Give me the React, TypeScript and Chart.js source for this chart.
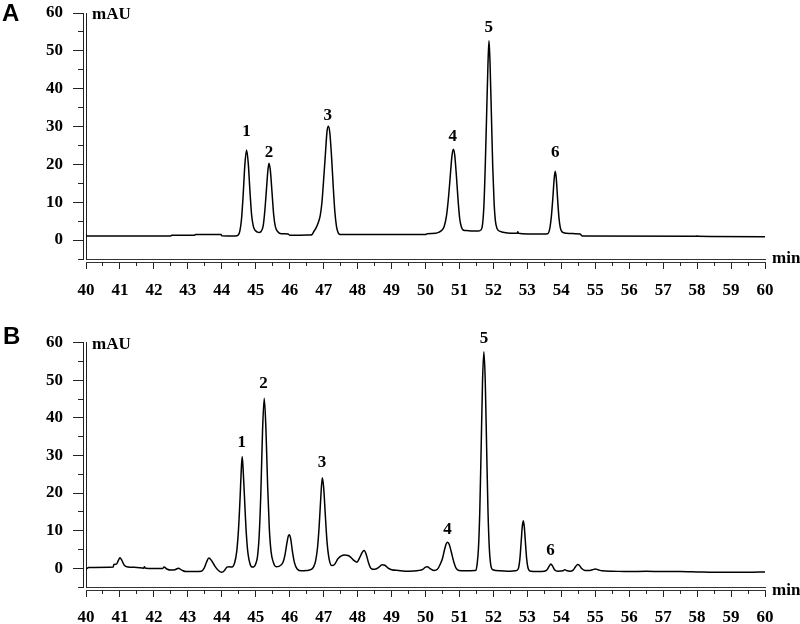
import React, { useEffect, useRef } from 'react';
import { Chart, registerables } from 'chart.js';

Chart.register(...registerables);

// ---- axis ranges / ticks ----
const X_MIN = 40;
const X_MAX = 60;
const X_STEP = 0.5;
const Y_MIN = -5;
const Y_MAX = 60;
const Y_STEP = 5;
const Y_UNIT = 'mAU';
const X_UNIT = 'min';

// ---- chromatogram A : [time (min), absorbance (mAU)] ----
const traceA: [number, number][] = [
  [40.0, 1.6], [40.02, 1.05], [42.5, 1.05], [42.52, 1.25], [43.2, 1.25], [43.22, 1.45],
  [43.98, 1.45], [44.0, 1.15], [44.4, 1.1], [44.48, 1.3], [44.53, 2.3], [44.58, 5.5],
  [44.63, 12.0], [44.68, 20.0], [44.73, 23.8], [44.78, 20.2], [44.83, 12.8], [44.88, 6.5],
  [44.93, 3.6], [44.98, 2.6], [45.05, 2.1], [45.1, 2.0], [45.15, 2.2], [45.22, 3.8],
  [45.27, 8.0], [45.32, 14.0], [45.36, 18.6], [45.39, 20.3], [45.43, 18.4], [45.48, 12.5],
  [45.53, 6.5], [45.58, 3.5], [45.65, 2.2], [45.75, 1.7], [45.85, 1.7], [45.95, 1.6],
  [46.0, 1.3], [46.3, 1.3], [46.6, 1.35], [46.65, 1.4], [46.72, 2.4], [46.78, 3.3],
  [46.84, 4.6], [46.9, 6.5], [46.95, 10.0], [47.0, 16.0], [47.05, 22.5], [47.1, 28.8],
  [47.14, 30.1], [47.18, 28.5], [47.23, 22.5], [47.28, 14.5], [47.33, 7.5], [47.38, 3.5],
  [47.43, 1.9], [47.48, 1.5], [47.6, 1.5], [50.0, 1.5], [50.05, 1.7], [50.3, 1.8],
  [50.4, 2.1], [50.48, 2.6], [50.55, 3.6], [50.62, 6.5], [50.68, 11.5], [50.73, 17.0],
  [50.78, 22.3], [50.82, 24.0], [50.86, 22.5], [50.91, 17.0], [50.96, 10.5], [51.01, 5.5],
  [51.06, 3.4], [51.12, 2.6], [51.2, 2.5], [51.4, 2.4], [51.55, 2.4], [51.62, 2.6],
  [51.67, 3.5], [51.72, 9.0], [51.76, 19.5], [51.8, 33.0], [51.84, 46.5], [51.87, 52.7],
  [51.9, 47.0], [51.94, 33.5], [51.98, 19.5], [52.02, 10.0], [52.06, 5.0], [52.11, 3.0],
  [52.2, 2.3], [52.4, 1.9], [52.7, 1.8], [52.72, 2.2], [52.74, 1.8], [53.0, 1.6],
  [53.45, 1.6], [53.6, 1.7], [53.66, 3.0], [53.71, 6.5], [53.75, 11.0], [53.79, 16.2],
  [53.82, 18.2], [53.85, 16.5], [53.89, 11.0], [53.93, 6.0], [53.97, 3.3], [54.03, 2.1],
  [54.15, 1.8], [54.4, 1.7], [54.55, 1.6], [54.62, 1.1], [57.99, 1.0], [58.0, 1.15],
  [58.02, 1.0], [60.0, 0.9],
];

// ---- chromatogram B ----
const traceB: [number, number][] = [
  [40.0, -0.3], [40.08, 0.2], [40.8, 0.3], [40.82, 1.0], [40.9, 1.1], [40.95, 2.0],
  [41.0, 2.8], [41.05, 2.2], [41.12, 0.9], [41.2, 0.4], [41.5, 0.2], [41.7, 0.0],
  [41.72, 0.4], [41.75, 0.0], [42.0, -0.1], [42.25, -0.1], [42.3, 0.3], [42.38, -0.2],
  [42.5, -0.5], [42.62, -0.4], [42.72, 0.0], [42.82, -0.5], [42.95, -0.9], [43.4, -0.8],
  [43.48, 0.0], [43.55, 1.6], [43.62, 2.7], [43.7, 2.0], [43.8, 0.5], [43.9, -0.6],
  [44.0, -1.1], [44.08, -0.6], [44.15, 0.3], [44.22, 0.4], [44.3, 0.3], [44.38, 1.5],
  [44.44, 4.5], [44.49, 10.0], [44.54, 19.0], [44.57, 25.5], [44.6, 29.7], [44.63, 26.0],
  [44.67, 18.5], [44.72, 9.5], [44.77, 4.0], [44.83, 1.2], [44.9, 0.3], [44.95, 0.4],
  [45.0, 1.2], [45.05, 3.0], [45.1, 8.5], [45.15, 20.0], [45.2, 36.5], [45.25, 45.2],
  [45.3, 37.0], [45.35, 22.0], [45.4, 10.5], [45.45, 4.5], [45.52, 1.5], [45.6, 0.4],
  [45.68, 0.5], [45.8, 1.5], [45.86, 3.5], [45.92, 6.8], [45.96, 8.6], [45.99, 8.9],
  [46.03, 7.8], [46.08, 4.5], [46.14, 1.5], [46.22, -0.2], [46.35, -0.7], [46.5, -0.6],
  [46.62, -0.4], [46.7, 0.3], [46.76, 1.8], [46.82, 5.5], [46.87, 11.5], [46.92, 19.5],
  [46.96, 24.1], [47.0, 21.5], [47.05, 14.0], [47.1, 7.0], [47.16, 2.5], [47.24, 0.7],
  [47.32, 1.0], [47.42, 2.5], [47.52, 3.3], [47.62, 3.5], [47.72, 3.4], [47.8, 2.9],
  [47.9, 2.0], [47.98, 1.6], [48.06, 2.8], [48.14, 4.3], [48.19, 4.7], [48.25, 3.8],
  [48.32, 1.5], [48.4, -0.1], [48.5, -0.3], [48.62, 0.2], [48.72, 0.9], [48.8, 0.8],
  [48.9, 0.0], [49.0, -0.4], [49.2, -0.6], [49.5, -0.8], [49.8, -0.6], [49.92, -0.3],
  [50.0, 0.3], [50.05, 0.4], [50.15, -0.2], [50.25, -0.6], [50.35, -0.3], [50.42, 0.8],
  [50.5, 2.6], [50.56, 4.9], [50.61, 6.5], [50.65, 6.9], [50.7, 6.3], [50.76, 4.3],
  [50.83, 1.8], [50.9, 0.0], [50.98, -0.6], [51.2, -0.7], [51.45, -0.6], [51.48, -0.6],
  [51.52, 1.0], [51.56, 5.3], [51.6, 15.5], [51.64, 32.3], [51.68, 49.8], [51.72, 57.6],
  [51.76, 49.8], [51.8, 32.3], [51.84, 15.5], [51.88, 5.3], [51.92, 1.0], [51.98, -0.4],
  [52.2, -0.7], [52.5, -0.8], [52.65, -0.7], [52.73, -0.2], [52.78, 2.5], [52.82, 7.3],
  [52.85, 11.0], [52.88, 12.6], [52.91, 11.0], [52.94, 7.3], [52.98, 2.5], [53.03, -0.2],
  [53.1, -0.8], [53.3, -0.9], [53.5, -0.8], [53.58, -0.4], [53.64, 0.5], [53.69, 1.1],
  [53.74, 0.6], [53.8, -0.4], [53.9, -0.8], [54.05, -0.7], [54.1, -0.4], [54.15, -0.6],
  [54.25, -0.8], [54.35, -0.5], [54.42, 0.4], [54.48, 1.0], [54.53, 0.8], [54.6, -0.1],
  [54.7, -0.6], [54.8, -0.6], [54.92, -0.4], [55.0, -0.2], [55.08, -0.4], [55.2, -0.7],
  [55.5, -0.8], [56.0, -0.9], [56.5, -0.8], [57.0, -0.9], [57.5, -0.9], [58.0, -1.0],
  [58.5, -1.1], [59.0, -1.1], [59.5, -1.1], [60.0, -1.0],
];

// ---- peak labels (name, time, label level in mAU) ----
const peakNames = ['1', '2', '3', '4', '5', '6'];
const peakTimesA = [44.73, 45.39, 47.12, 50.8, 51.86, 53.82];
const peakLevelsA = [28.6, 23.1, 33.0, 27.3, 56.2, 23.1];
const peakTimesB = [44.59, 45.23, 46.95, 50.65, 51.72, 53.68];
const peakLevelsB = [33.4, 49.0, 28.2, 10.4, 61.0, 4.7];

const SERIF = '"Liberation Serif", "Times New Roman", serif';

type PanelProps = {
  letter: string;
  trace: [number, number][];
  peakTimes: number[];
  peakLevels: number[];
  padTop: number;
  xAxisHeight: number;
  xLabelPad: number;
  minOffset: number;
  letterBaseline: number;
  letterX: number;
};

function Panel(props: PanelProps) {
  const ref = useRef<HTMLCanvasElement>(null);
  useEffect(() => {
    if (!ref.current) return;
    const { letter, trace, peakTimes, peakLevels, padTop, xAxisHeight, xLabelPad, minOffset, letterBaseline, letterX } = props;

    const overlay = {
      id: 'overlay',
      afterDraw(chart: any) {
        const ctx = chart.ctx as CanvasRenderingContext2D;
        const xs = chart.scales.x;
        const ys = chart.scales.y;
        ctx.save();
        ctx.strokeStyle = '#222';
        ctx.lineWidth = 1;
        ctx.beginPath();
        for (let v = Y_MIN; v <= Y_MAX; v += Y_STEP) {
          if (v % 10 === 0) continue;
          const py = Math.floor(ys.getPixelForValue(v)) + 0.5;
          ctx.moveTo(ys.right - 5, py);
          ctx.lineTo(ys.right, py);
        }
        for (let t = X_MIN + X_STEP; t < X_MAX; t += 1) {
          const px = Math.floor(xs.getPixelForValue(t)) + 0.5;
          ctx.moveTo(px, xs.top);
          ctx.lineTo(px, xs.top + 4);
        }
        ctx.stroke();

        ctx.fillStyle = '#000';
        ctx.font = `bold 17px ${SERIF}`;
        ctx.textAlign = 'center';
        ctx.textBaseline = 'middle';
        peakNames.forEach((n, i) => {
          ctx.fillText(n, xs.getPixelForValue(peakTimes[i]), ys.getPixelForValue(peakLevels[i]));
        });
        ctx.textAlign = 'left';
        ctx.textBaseline = 'alphabetic';
        ctx.fillText(Y_UNIT, chart.chartArea.left + 6, ys.getPixelForValue(Y_MAX) + 6);
        ctx.fillText(X_UNIT, chart.chartArea.right + 7, ys.getPixelForValue(Y_MIN) + minOffset);
        ctx.font = 'bold 24px "Liberation Sans", Arial, sans-serif';
        ctx.fillText(letter, letterX, letterBaseline);
        ctx.restore();
      },
    };

    const tickFont = { family: SERIF, weight: 'bold' as const, size: 17 };

    const chart = new Chart(ref.current, {
      type: 'line',
      data: {
        datasets: [
          {
            data: trace.map(([x, y]) => ({ x, y })),
            borderColor: '#000',
            borderWidth: 1.5,
            pointRadius: 0,
            fill: false,
            cubicInterpolationMode: 'monotone',
            xAxisID: 'x',
            yAxisID: 'y',
          },
        ],
      },
      options: {
        animation: false,
        responsive: false,
        devicePixelRatio: 1,
        layout: { padding: { top: padTop, left: 0, right: 35, bottom: 0 } },
        plugins: { legend: { display: false }, tooltip: { enabled: false } },
        scales: {
          x: {
            type: 'linear',
            position: 'bottom',
            weight: 1,
            min: X_MIN,
            max: X_MAX,
            afterFit: (s: any) => { s.height = xAxisHeight; },
            afterBuildTicks: (s: any) => {
              const t = [];
              for (let v = X_MIN; v <= X_MAX + 1e-9; v += X_STEP) t.push({ value: v });
              s.ticks = t;
            },
            ticks: {
              autoSkip: false,
              maxRotation: 0,
              padding: xLabelPad,
              color: '#000',
              font: tickFont,
              callback: (v: any) => (Number.isInteger(Number(v)) ? String(v) : ''),
            },
            grid: {
              drawOnChartArea: false,
              drawTicks: true,
              tickLength: 7,
              tickColor: (c: any) => (Number.isInteger(c.tick?.value) ? '#222' : 'rgba(0,0,0,0)'),
            },
            border: { display: true, color: '#333', width: 1 },
          },
          x2: {
            type: 'linear',
            position: 'bottom',
            weight: 0,
            min: X_MIN,
            max: X_MAX,
            display: true,
            afterFit: (s: any) => { s.height = 3; },
            ticks: { display: false },
            grid: { drawOnChartArea: false, drawTicks: false },
            border: { display: true, color: '#333', width: 1 },
          },
          y: {
            type: 'linear',
            position: 'left',
            weight: 1,
            min: Y_MIN,
            max: Y_MAX,
            afterFit: (s: any) => {
              s.width = 83;
              s.paddingTop = 0;
              s.paddingBottom = 0;
            },
            ticks: {
              stepSize: Y_STEP,
              autoSkip: false,
              padding: 10,
              color: '#000',
              font: tickFont,
              callback: (v: any) => (Number(v) % 10 === 0 ? String(v) : ''),
            },
            grid: {
              drawOnChartArea: false,
              drawTicks: true,
              tickLength: 10,
              tickColor: (c: any) => (c.tick && c.tick.value % 10 === 0 ? '#222' : 'rgba(0,0,0,0)'),
            },
            border: { display: true, color: '#222', width: 1 },
          },
          y2: {
            type: 'linear',
            position: 'left',
            weight: 0,
            min: Y_MIN,
            max: Y_MAX,
            display: true,
            afterFit: (s: any) => {
              s.width = 3;
              s.paddingTop = 0;
              s.paddingBottom = 0;
            },
            ticks: { display: false },
            grid: { drawOnChartArea: false, drawTicks: false },
            border: { display: true, color: '#222', width: 1 },
          },
        },
      },
      plugins: [overlay],
    } as any);
    return () => chart.destroy();
  }, []);
  return <canvas ref={ref} width={800} height={312} style={{ display: 'block' }} />;
}

export default function App() {
  return (
    <div style={{ position: 'absolute', left: 0, top: 0, width: 800, height: 624, background: '#fff' }}>
      <Panel
        letter="A"
        trace={traceA}
        peakTimes={peakTimesA}
        peakLevels={peakLevelsA}
        padTop={13}
        xAxisHeight={50}
        xLabelPad={11}
        minOffset={4}
        letterBaseline={21}
        letterX={2}
      />
      <Panel
        letter="B"
        trace={traceB}
        peakTimes={peakTimesB}
        peakLevels={peakLevelsB}
        padTop={30.7}
        xAxisHeight={34}
        xLabelPad={10}
        minOffset={8}
        letterBaseline={32}
        letterX={3}
      />
    </div>
  );
}
